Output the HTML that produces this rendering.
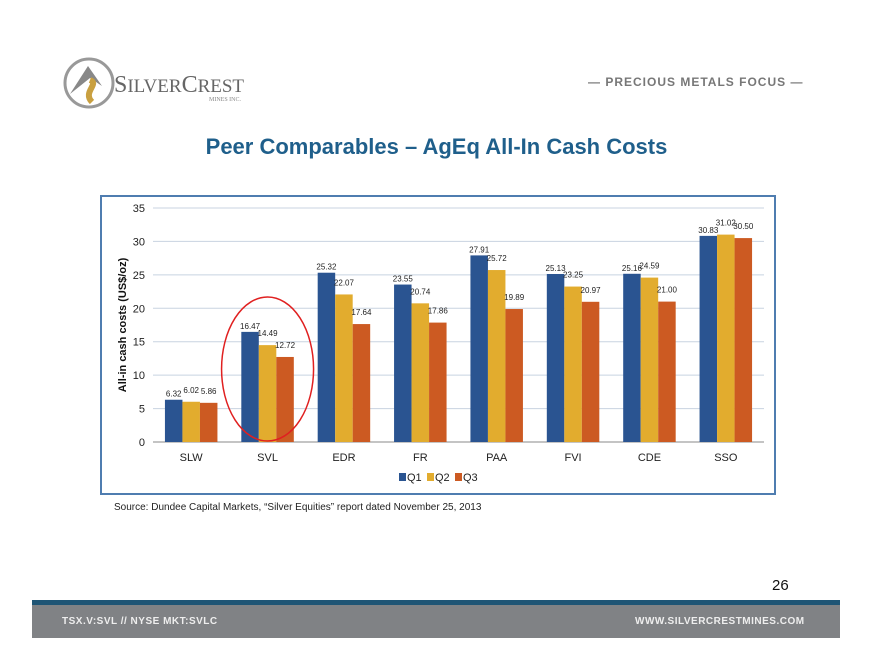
<!DOCTYPE html>
<html><head><meta charset="utf-8"><style>
body{margin:0;width:873px;height:672px;background:#fff;position:relative;overflow:hidden;font-family:"Liberation Sans",sans-serif}
.abs{position:absolute}
</style></head><body>
<div class="abs" style="left:62px;top:56px;width:200px;height:54px">
<svg width="200" height="54"><circle cx="27" cy="27" r="24" fill="#fff" stroke="#999" stroke-width="3"/><path d="M8 38 L26 10 L40 30 L28 22 Z" fill="#888"/><path d="M28 24 C38 28 20 36 30 46" stroke="#c9a040" stroke-width="6" fill="none"/>
<text x="52" y="36" font-family="Liberation Serif" font-size="24" fill="#666">S<tspan font-size="19">ILVER</tspan>C<tspan font-size="19">REST</tspan></text>
<text x="147" y="45" font-family="Liberation Serif" font-size="6" fill="#888">MINES INC.</text></svg></div>
<div class="abs" style="left:588px;top:75px;font-size:12px;font-weight:bold;color:#777;letter-spacing:1px">— PRECIOUS METALS FOCUS —</div>
<div class="abs" style="left:0;width:873px;top:134px;text-align:center;font-size:22px;font-weight:bold;color:#1f5f8b">Peer Comparables – AgEq All-In Cash Costs</div>
<svg class="abs" style="left:0;top:0" width="873" height="672" id="chart"></svg>
<div class="abs" style="left:114px;top:502px;font-size:10px;color:#222">Source: Dundee Capital Markets, “Silver Equities” report dated November 25, 2013</div>
<div class="abs" style="left:772px;top:577px;font-size:15px;color:#111">26</div>
<div class="abs" style="left:32px;top:600px;width:808px;height:5px;background:#1f5575"></div>
<div class="abs" style="left:32px;top:605px;width:808px;height:33px;background:#808285"></div>
<div class="abs" style="left:62px;top:616px;font-size:10px;font-weight:bold;color:#eee;letter-spacing:.5px">TSX.V:SVL // NYSE MKT:SVLC</div>
<div class="abs" style="left:635px;top:616px;font-size:10px;font-weight:bold;color:#eee;letter-spacing:.5px">WWW.SILVERCRESTMINES.COM</div>
<script>
const categories=["SLW","SVL","EDR","FR","PAA","FVI","CDE","SSO"];
const q1=[6.32,16.47,25.32,23.55,27.91,25.13,25.16,30.83];
const q2=[6.02,14.49,22.07,20.74,25.72,23.25,24.59,31.02];
const q3=[5.86,12.72,17.64,17.86,19.89,20.97,21.00,30.50];
const yTicks=[0,5,10,15,20,25,30,35];
const seriesNames=["Q1","Q2","Q3"];
const colors=["#2a5491","#e2ac2e","#cc5a22"];
const svg=document.getElementById('chart');const NS='http://www.w3.org/2000/svg';
function el(t,a,p){const e=document.createElementNS(NS,t);for(const k in a)e.setAttribute(k,a[k]);(p||svg).appendChild(e);return e;}
const x0=153,x1=764,yb=442,yt=208;
const y=v=>yb-(v/35)*(yb-yt);
const cw=(x1-x0)/categories.length;
const box=el('rect',{x:101,y:196,width:674,height:298,fill:'none',stroke:'#4f7db0','stroke-width':2});

yTicks.forEach(t=>{
 const g=el('line',{x1:x0,x2:x1,y1:y(t),y2:y(t),stroke:t?'#c8d3e0':'#888','stroke-width':1});
 
 const l=el('text',{x:x0-8,y:y(t)+4,'text-anchor':'end','font-size':11,fill:'#222'});l.textContent=t;
 
});
const yt2=el('text',{transform:`translate(126,${(yb+yt)/2}) rotate(-90)`,'text-anchor':'middle','font-size':11,'font-weight':'bold',fill:'#111'});
yt2.textContent='All-in cash costs (US$/oz)';
const series=[q1,q2,q3];const bw=17.5;
categories.forEach((c,i)=>{
 const cx=x0+cw*(i+0.5);
 const l=el('text',{x:cx,y:yb+19,'text-anchor':'middle','font-size':11,fill:'#222'});l.textContent=c;
 
 series.forEach((s,j)=>{
  const bx=cx-1.5*bw+j*bw;
  const r=el('rect',{x:bx,y:y(s[i]),width:bw,height:yb-y(s[i]),fill:colors[j]});
  
  const t=el('text',{x:bx+bw/2,y:y(s[i])-(j==0?3:9),'text-anchor':'middle','font-size':8,fill:'#222'});t.textContent=s[i].toFixed(2);
  
 });
});
const e=el('ellipse',{cx:x0+cw*1.5,cy:369,rx:46,ry:72,fill:'none',stroke:'#e02020','stroke-width':1.5});

seriesNames.forEach((n,j)=>{
 const lx=399+j*28;
 const r=el('rect',{x:lx,y:473,width:7,height:8,fill:colors[j]});
 
 const t=el('text',{x:lx+8,y:481,'font-size':11,fill:'#222'});t.textContent=n;
 
});
</script>
</body></html>
